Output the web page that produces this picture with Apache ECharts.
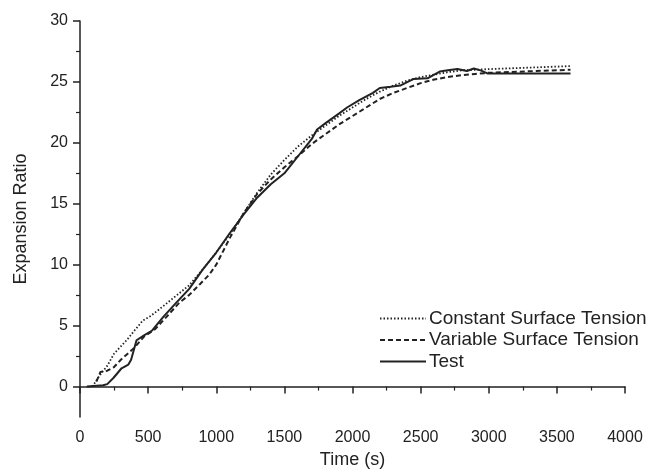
<!DOCTYPE html>
<html>
<head>
<meta charset="utf-8">
<script src="https://cdn.jsdelivr.net/npm/echarts@6/dist/echarts.min.js"></script>
<style>html,body{margin:0;padding:0;background:#fff}#c{width:651px;height:474px}</style>
</head>
<body>
<div id="c"></div>
<script>
var seriesNames = ['Constant Surface Tension', 'Variable Surface Tension', 'Test'];
var xTicks = [0, 500, 1000, 1500, 2000, 2500, 3000, 3500, 4000];
var yMajorTicks = [0, 5, 10, 15, 20, 25, 30];
var yMinorTicks = [2.5, 7.5, 12.5, 17.5, 22.5, 27.5];

var constTime  = [90, 150, 200, 250, 300, 350, 400, 460, 520, 600, 700, 800, 900, 1000, 1100, 1200, 1300, 1400, 1500, 1600, 1700, 1800, 1900, 2000, 2100, 2200, 2300, 2400, 2500, 2600, 2700, 2800, 2900, 3000, 3600];
var constValue = [0, 1.0, 1.7, 2.7, 3.3, 3.9, 4.6, 5.4, 5.8, 6.5, 7.4, 8.3, 9.6, 11.0, 12.5, 14.2, 15.9, 17.4, 18.6, 19.7, 20.6, 21.4, 22.2, 22.9, 23.6, 24.2, 24.7, 25.1, 25.4, 25.6, 25.8, 25.95, 26.0, 26.05, 26.3];

var varTime  = [120, 150, 200, 250, 300, 350, 400, 470, 550, 650, 730, 800, 880, 950, 1000, 1100, 1200, 1300, 1400, 1500, 1600, 1700, 1800, 1900, 2000, 2100, 2200, 2300, 2400, 2500, 2600, 2700, 2800, 2900, 3000, 3600];
var varValue = [0.4, 1.2, 1.3, 1.6, 2.2, 2.7, 3.2, 4.1, 4.7, 5.9, 6.9, 7.5, 8.4, 9.2, 10.0, 12.2, 14.2, 15.8, 17.0, 18.0, 18.9, 19.9, 20.7, 21.5, 22.2, 22.9, 23.6, 24.1, 24.5, 24.9, 25.2, 25.4, 25.55, 25.65, 25.75, 26.0];

var testTime  = [50, 100, 170, 200, 245, 305, 355, 375, 415, 470, 530, 610, 700, 800, 900, 1000, 1100, 1200, 1300, 1400, 1500, 1600, 1700, 1740, 1800, 1900, 1960, 2050, 2150, 2200, 2280, 2350, 2450, 2550, 2640, 2700, 2770, 2840, 2890, 2940, 2990, 3600];
var testValue = [0, 0.05, 0.1, 0.2, 0.7, 1.5, 1.8, 2.2, 3.8, 4.2, 4.6, 5.7, 6.8, 8.0, 9.6, 11.0, 12.6, 14.1, 15.5, 16.6, 17.5, 18.9, 20.3, 21.1, 21.6, 22.4, 22.9, 23.5, 24.1, 24.5, 24.6, 24.7, 25.25, 25.3, 25.85, 25.95, 26.06, 25.9, 26.1, 25.95, 25.7, 25.7];

function pairs(t, v) { return t.map(function (x, i) { return [x, v[i]]; }); }

var FONT = '"Liberation Sans", Arial, sans-serif';
var INK = '#222';

var chart = echarts.init(document.getElementById('c'), null, { renderer: 'canvas' });
chart.setOption({
  animation: false,
  backgroundColor: '#fff',
  grid: { left: 80, right: 26, top: 21, bottom: 53, containLabel: false },
  legend: {
    orient: 'vertical',
    left: 379,
    top: 309,
    itemWidth: 46,
    itemHeight: 12,
    itemGap: 2.5,
    padding: 0,
    data: seriesNames,
    itemStyle: { opacity: 0 },
    textStyle: { fontFamily: FONT, fontSize: 19, color: INK, lineHeight: 19, padding: [0, 0, 0, -2] }
  },
  xAxis: {
    type: 'value',
    min: 0, max: 4000, interval: 500,
    name: 'Time (s)', nameLocation: 'middle', nameGap: 34,
    nameTextStyle: { fontFamily: FONT, fontSize: 18, color: INK },
    axisLine: { show: true, lineStyle: { color: INK, width: 1.5 } },
    axisTick: { show: true, length: 7, lineStyle: { color: INK, width: 1.5 } },
    minorTick: { show: true, splitNumber: 2, length: 4, lineStyle: { color: INK, width: 1.2 } },
    axisLabel: { fontFamily: FONT, fontSize: 16, color: INK, margin: 13, formatter: function (v) { return String(v); } },
    splitLine: { show: false }
  },
  yAxis: [{
    type: 'value',
    min: -2.5, max: 30,
    position: 'left',
    name: 'Expansion Ratio', nameLocation: 'middle', nameGap: 50,
    nameTextStyle: { fontFamily: FONT, fontSize: 18, color: INK },
    axisLine: { show: true, onZero: false, lineStyle: { color: INK, width: 1.5 } },
    axisTick: { show: true, length: 7, customValues: yMajorTicks, lineStyle: { color: INK, width: 1.5 } },
    axisLabel: { fontFamily: FONT, fontSize: 16, color: INK, margin: 12, customValues: yMajorTicks },
    splitLine: { show: false }
  }, {
    type: 'value',
    min: -2.5, max: 30,
    position: 'left',
    axisLine: { show: false },
    axisTick: { show: true, length: 4, customValues: yMinorTicks, lineStyle: { color: INK, width: 1.2 } },
    axisLabel: { show: false, customValues: yMinorTicks },
    splitLine: { show: false }
  }],
  series: [{
    name: seriesNames[0], type: 'line', showSymbol: false, symbol: 'none',
    data: pairs(constTime, constValue),
    lineStyle: { color: INK, width: 1.8, type: [1.5, 2] },
    itemStyle: { color: INK }
  }, {
    name: seriesNames[1], type: 'line', showSymbol: false, symbol: 'none',
    data: pairs(varTime, varValue),
    lineStyle: { color: INK, width: 2, type: [5, 3] },
    itemStyle: { color: INK }
  }, {
    name: seriesNames[2], type: 'line', showSymbol: false, symbol: 'none',
    data: pairs(testTime, testValue),
    lineStyle: { color: INK, width: 2, type: 'solid' },
    itemStyle: { color: INK }
  }]
});
</script>
</body>
</html>
